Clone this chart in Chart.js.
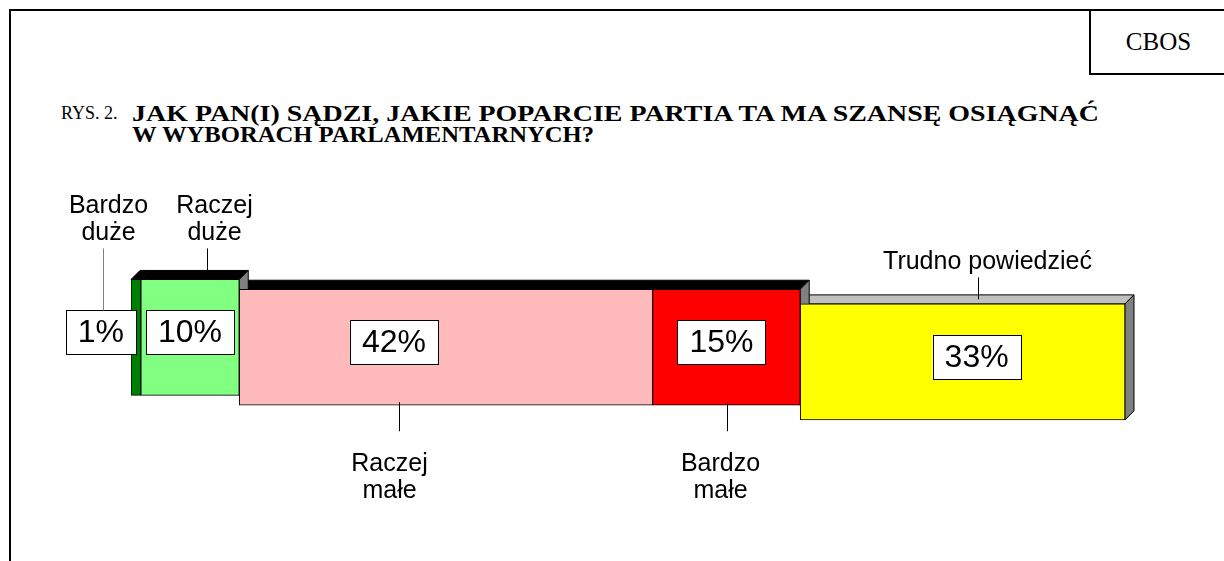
<!DOCTYPE html>
<html>
<head>
<meta charset="utf-8">
<script src="https://cdn.jsdelivr.net/npm/chart.js@4.4.1/dist/chart.umd.min.js"></script>
<style>
  body { margin: 0; width: 1224px; height: 561px; overflow: hidden; position: relative; background: #fff; }
  #frame { position: absolute; left: 9px; top: 9px; width: 1230px; height: 560px; border-left: 2px solid #000; border-top: 2px solid #000; }
  #cbos { position: absolute; left: 1089px; top: 9px; width: 140px; height: 64px; border-left: 2px solid #000; border-bottom: 2px solid #000;
          font: 25px "Liberation Serif", "Times New Roman", serif; }
  #cbos span { position: absolute; left: 0; width: 135px; top: 20px; text-align: center; line-height: 25px; }
  #rys { position: absolute; left: 61px; top: 103px; font: 18px "Liberation Serif", "Times New Roman", serif; line-height: 21px; }
  .tl { position: absolute; left: 132px; font: bold 24px "Liberation Serif", "Times New Roman", serif; line-height: 21px;
        white-space: nowrap; transform-origin: 0 50%; }
  #c { position: absolute; left: 0; top: 0; }
</style>
</head>
<body>
<div id="frame"></div>
<div id="cbos"><span>CBOS</span></div>
<div id="rys">RYS. 2.</div>
<div class="tl" id="t1" style="top:103px">JAK PAN(I) SĄDZI, JAKIE POPARCIE PARTIA TA MA SZANSĘ OSIĄGNĄĆ</div>
<div class="tl" id="t2" style="top:124px">W WYBORACH PARLAMENTARNYCH?</div>
<canvas id="c" width="1224" height="561"></canvas>

<script>
// ---- data ----
var categories = [['Bardzo', 'duże'], ['Raczej', 'duże'], ['Raczej', 'małe'], ['Bardzo', 'małe'], ['Trudno powiedzieć']];
var values = [1, 10, 42, 15, 33];
var valueLabels = ['1%', '10%', '42%', '15%', '33%'];
// depth row of each block on the hidden vertical axis (3D offset of the original)
var rows = [6, 6, 7, 7, 8.5];

// ---- styling ----
var fillColors = ['#008000', '#80FF80', '#FFBBBB', '#FF0000', '#FFFF00'];
var topColors = ['#000000', '#000000', '#000000', '#000000', '#C0C0C0'];
var sideColor = '#808080';
var depth = 9;
var boxShift = [-35, 0, -52, -5, 14];     // value box offset from block centre
var calloutSide = ['top', 'top', 'bottom', 'bottom', 'top'];
var leadDx = [-33, 17, -47, 1, 15];       // leader line offset from block centre
var leadFrom = ['box', 'face', 'bottom', 'bottom', 'faceMid'];
var leadLen = [62, 22, 29, 29, 22];
var textDx = [5, 7, -10, -7, 9];
var leadColor = ['#808080', '#000', '#000', '#000', '#000'];

// title lines are stretched to the widths of the original print
function fitWidth(id, w) {
    var el = document.getElementById(id);
    var nat = el.getBoundingClientRect().width;
    el.style.transform = 'scaleX(' + (w / nat) + ')';
}
fitWidth('t1', 967);
fitWidth('t2', 462);

// floating bars: each block starts where the previous one ended
var starts = [];
var acc = 0;
for (var i in values) {
    starts.push(acc);
    acc += values[i];
}
var barData = values.map(function(v, i) {
    return { x: [starts[i], starts[i] + v], y: rows[i] };
});

var boxFont = '32px "Liberation Sans", Arial, sans-serif';
var calloutFont = '25px "Liberation Sans", Arial, sans-serif';

function barGeom(el) {
    var p = el.getProps(['x', 'y', 'base', 'height'], true);
    return { left: Math.min(p.x, p.base), right: Math.max(p.x, p.base), top: p.y - p.height / 2, bottom: p.y + p.height / 2, cy: p.y };
}

// draws the top and right faces behind the front faces, then the labels
var depthPlugin = {
    id: 'depth3d',
    beforeDatasetsDraw: function(chart) {
        var ctx = chart.ctx;
        var els = chart.getDatasetMeta(0).data;
        ctx.save();
        ctx.lineWidth = 1;
        ctx.strokeStyle = '#000';
        for (var i = els.length - 1; i >= 0; i--) {
            var g = barGeom(els[i]);
            // top face
            ctx.fillStyle = topColors[i];
            ctx.beginPath();
            ctx.moveTo(g.left, g.top);
            ctx.lineTo(g.right, g.top);
            ctx.lineTo(g.right + depth, g.top - depth);
            ctx.lineTo(g.left + depth, g.top - depth);
            ctx.closePath();
            ctx.fill();
            ctx.stroke();
            // right face only where the next block sits on another row
            if (i === els.length - 1 || rows[i + 1] !== rows[i]) {
                ctx.fillStyle = sideColor;
                ctx.beginPath();
                ctx.moveTo(g.right, g.top);
                ctx.lineTo(g.right + depth, g.top - depth);
                ctx.lineTo(g.right + depth, g.bottom - depth);
                ctx.lineTo(g.right, g.bottom);
                ctx.closePath();
                ctx.fill();
                ctx.stroke();
            }
        }
        ctx.restore();
    },
    afterDatasetsDraw: function(chart) {
        var ctx = chart.ctx;
        var els = chart.getDatasetMeta(0).data;
        ctx.save();
        for (var i = 0; i < els.length; i++) {
            var g = barGeom(els[i]);
            var cx = (g.left + g.right) / 2;

            // value box
            ctx.font = boxFont;
            var tw = ctx.measureText(valueLabels[i]).width;
            var bw = tw + 24, bh = 44;
            var bx = cx + boxShift[i] - bw / 2;
            var by = g.cy - 5 - bh / 2;
            ctx.fillStyle = '#fff';
            ctx.fillRect(bx, by, bw, bh);
            ctx.strokeStyle = '#000';
            ctx.lineWidth = 1;
            ctx.strokeRect(Math.round(bx) + 0.5, Math.round(by) + 0.5, Math.round(bw), Math.round(bh));
            ctx.fillStyle = '#000';
            ctx.textAlign = 'center';
            ctx.textBaseline = 'middle';
            ctx.fillText(valueLabels[i], bx + bw / 2, by + bh / 2 + 1);

            // leader line + category text
            var lx = Math.round(cx + leadDx[i]) + 0.5;
            var y0;
            if (leadFrom[i] === 'box') y0 = by;
            else if (leadFrom[i] === 'face') y0 = g.top - depth;
            else if (leadFrom[i] === 'faceMid') y0 = g.top - depth / 2;
            else y0 = g.bottom - 3;
            var dir = calloutSide[i] === 'top' ? -1 : 1;
            var y1 = y0 + dir * leadLen[i];
            ctx.strokeStyle = leadColor[i];
            ctx.lineWidth = 1;
            ctx.beginPath();
            ctx.moveTo(lx, y0);
            ctx.lineTo(lx, y1);
            ctx.stroke();

            ctx.font = calloutFont;
            ctx.fillStyle = '#000';
            ctx.textBaseline = 'alphabetic';
            var lines = categories[i];
            var tx = lx + textDx[i];
            for (var k = 0; k < lines.length; k++) {
                var ty;
                if (dir < 0) ty = y1 - 8 - (lines.length - 1 - k) * 27;
                else ty = y1 + 40 + k * 27;
                ctx.fillText(lines[k], tx, ty);
            }
        }
        ctx.restore();
    }
};

var ctxC = document.getElementById('c').getContext('2d');
var config = {
    type: 'bar',
    data: {
        datasets: [{
            data: barData,
            backgroundColor: fillColors,
            borderColor: '#000',
            borderWidth: 1,
            borderSkipped: false,
            barThickness: 116
        }]
    },
    options: {
        indexAxis: 'y',
        responsive: false,
        animation: false,
        layout: { padding: { left: 131, right: 99, top: 269, bottom: 116 } },
        scales: {
            x: { type: 'linear', min: 0, max: 101, display: false },
            y: { type: 'linear', min: 0, max: 16, reverse: true, display: false }
        },
        plugins: {
            legend: { display: false },
            tooltip: { enabled: false }
        }
    },
    plugins: [depthPlugin]
};

var chart = new Chart(ctxC, config);
</script>
</body>
</html>
